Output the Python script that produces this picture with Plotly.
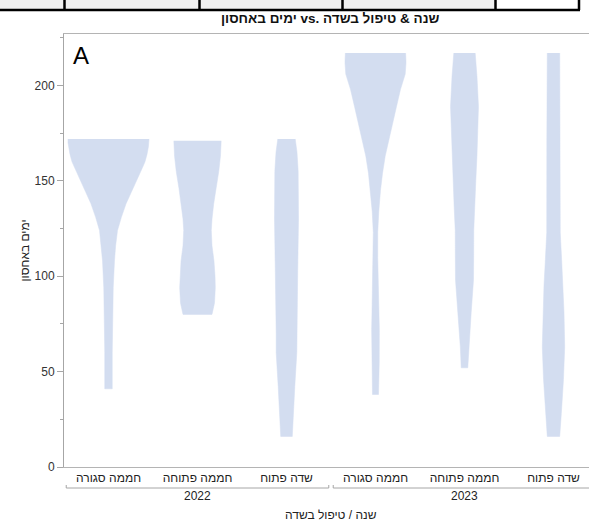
import plotly.graph_objects as go

# ---- data ----
YEARS = ["2022", "2023"]
TREATMENTS = ["חממה סגורה", "חממה פתוחה", "שדה פתוח"]
CATEGORY_LABELS = TREATMENTS + TREATMENTS

# violin profiles: storage days and half-width (fraction of a category slot)
V1_DAYS = [172, 170, 168, 164, 160, 157, 150, 144, 138, 131, 124, 116, 108, 94, 77, 60, 41]
V1_HALF = [0.455, 0.455, 0.449, 0.433, 0.410, 0.382, 0.311, 0.255, 0.197, 0.145, 0.101, 0.080,
           0.067, 0.053, 0.045, 0.042, 0.042]
V2_DAYS = [171, 163, 155, 146, 138, 130, 124, 116, 108, 100, 94, 86, 80]
V2_HALF = [0.266, 0.258, 0.239, 0.208, 0.182, 0.163, 0.155, 0.163, 0.185, 0.197, 0.200, 0.191, 0.163]
V3_DAYS = [172, 165, 155, 130, 103, 70, 60, 42, 28, 16]
V3_HALF = [0.098, 0.118, 0.131, 0.135, 0.126, 0.116, 0.116, 0.093, 0.075, 0.065]
V4_DAYS = [217, 212, 206, 198, 189, 180, 171, 163, 154, 145, 134, 123, 110, 98, 85, 72, 55, 38]
V4_HALF = [0.339, 0.343, 0.334, 0.281, 0.236, 0.191, 0.146, 0.109, 0.079, 0.056, 0.037, 0.025,
           0.025, 0.031, 0.038, 0.043, 0.042, 0.034]
V5_DAYS = [217, 205, 189, 176, 163, 150, 136, 124, 110, 98, 81, 63, 52]
V5_HALF = [0.120, 0.140, 0.157, 0.152, 0.140, 0.127, 0.116, 0.104, 0.103, 0.101, 0.075, 0.047, 0.037]
V6_DAYS = [217, 171, 123, 107, 95, 81, 63, 46, 28, 16]
V6_HALF = [0.070, 0.075, 0.076, 0.093, 0.107, 0.118, 0.126, 0.112, 0.088, 0.070]

PROFILES = [(V1_DAYS, V1_HALF), (V2_DAYS, V2_HALF), (V3_DAYS, V3_HALF),
            (V4_DAYS, V4_HALF), (V5_DAYS, V5_HALF), (V6_DAYS, V6_HALF)]

TITLE = "ימים באחסון vs. שנה & טיפול בשדה"
Y_TITLE = "ימים באחסון"
X_TITLE = "שנה / טיפול בשדה"
Y_TICKS = [0, 50, 100, 150, 200]

FILL = "#d3ddf0"
FONT = "Liberation Sans, DejaVu Sans, Arial, sans-serif"

fig = go.Figure()
for i, (days, half) in enumerate(PROFILES):
    xs = [i + h for h in half] + [i - h for h in reversed(half)]
    ys = list(days) + list(reversed(days))
    fig.add_trace(go.Scatter(
        x=xs, y=ys, mode="lines", fill="toself", fillcolor=FILL,
        line=dict(color=FILL, width=0.5),
        hoverinfo="skip", showlegend=False))

W, H = 589, 522
L, R, T, B = 64, 0, 34, 55
pw, ph = W - L - R, H - T - B

def px_x(px):
    return (px - L) / pw

def px_y(py):
    return 1 + (T - py) / ph

shapes = []
# bracket lines under the category labels for each year
for g in range(len(YEARS)):
    x0 = g * 3 - 0.5 + 0.025
    x1 = g * 3 + 2.5 - 0.025
    yb = px_y(488)
    yt = px_y(485)
    shapes.append(dict(type="line", xref="x", yref="paper", x0=x0, x1=x1, y0=yb, y1=yb,
                       line=dict(color="#a6a6a6", width=1)))
    for xx in (x0, x1):
        shapes.append(dict(type="line", xref="x", yref="paper", x0=xx, x1=xx, y0=yb, y1=yt,
                           line=dict(color="#a6a6a6", width=1)))

# fragment of a table strip at top of page
shapes.append(dict(type="rect", xref="paper", yref="paper", x0=px_x(0), x1=px_x(495),
                   y0=px_y(10), y1=px_y(-2), fillcolor="#f0f0f0", line=dict(width=0), layer="below"))
shapes.append(dict(type="line", xref="paper", yref="paper", x0=px_x(0), x1=px_x(580),
                   y0=px_y(10), y1=px_y(10), line=dict(color="black", width=2.5)))
for sx in (64.5, 199.5, 342.5, 495.5, 579):
    shapes.append(dict(type="line", xref="paper", yref="paper", x0=px_x(sx), x1=px_x(sx),
                       y0=px_y(10), y1=px_y(-2), line=dict(color="black", width=2.5)))

annotations = []
for g, yr in enumerate(YEARS):
    annotations.append(dict(text=yr, x=g * 3 + 1, xref="x", y=px_y(496), yref="paper",
                            showarrow=False, font=dict(size=12, color="#222", family=FONT),
                            yanchor="middle"))
annotations.append(dict(text=X_TITLE, x=2.5, xref="x", y=px_y(515), yref="paper",
                        showarrow=False, font=dict(size=12, color="#222", family=FONT),
                        yanchor="middle"))
annotations.append(dict(text="<b>" + TITLE + "</b>", x=px_x(330), xref="paper", y=px_y(19),
                        yref="paper", showarrow=False,
                        font=dict(size=13.5, color="#111", family=FONT),
                        xanchor="center", yanchor="middle"))
annotations.append(dict(text="A", x=px_x(81), xref="paper", y=px_y(56), yref="paper",
                        showarrow=False, font=dict(size=24, color="black", family=FONT),
                        yanchor="middle", xanchor="center"))

fig.update_layout(
    width=W, height=H,
    margin=dict(l=L, r=R, t=T, b=B),
    paper_bgcolor="white", plot_bgcolor="white",
    font=dict(family=FONT, size=12, color="#333"),
    shapes=shapes, annotations=annotations,
    xaxis=dict(range=[-0.5, 5.5 - 9 / 89], tickmode="array", tickvals=list(range(6)),
               ticktext=CATEGORY_LABELS, showgrid=False, zeroline=False,
               showline=True, linecolor="#b4b4b4", linewidth=1, mirror=True,
               ticks="", tickfont=dict(size=12, color="#222")),
    yaxis=dict(range=[0, 227], tickmode="array", tickvals=Y_TICKS, showgrid=False,
               zeroline=False, showline=True, linecolor="#a6a6a6", linewidth=1,
               ticks="outside", ticklen=6, tickcolor="#a6a6a6",
               minor=dict(dtick=25, tick0=0, ticks="outside", ticklen=3, tickcolor="#a6a6a6"),
               tickfont=dict(size=12, color="#333"),
               title=dict(text=Y_TITLE, font=dict(size=12, color="#222"), standoff=2)),
)

fig.write_html("out.html")
